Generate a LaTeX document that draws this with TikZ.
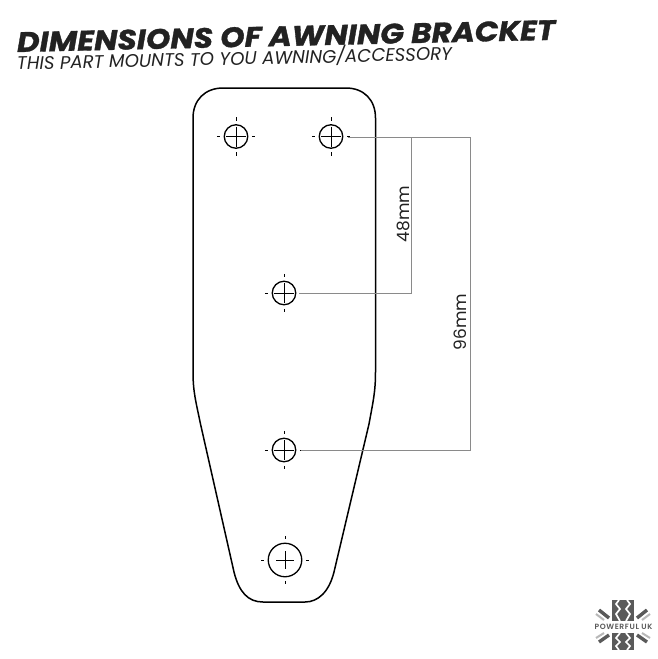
\documentclass[tikz,border=0pt]{standalone}
\usepackage{fontspec}
\setmainfont{Poppins}
\newfontfamily\titlefont[FakeStretch=1.11,FakeBold=1.2,BoldFont={Poppins Bold},ItalicFont={Poppins Bold Italic}]{Poppins Bold Italic}
\newfontfamily\logofont[LetterSpace=8]{Poppins SemiBold}
\definecolor{ink}{HTML}{222222}
\definecolor{dimgrey}{HTML}{8A8A8A}
\definecolor{logodark}{HTML}{5A5A5A}
\definecolor{logolight}{HTML}{B8B8B8}
\tikzset{
  outline/.style={draw=black,line width=1.5pt,line join=round},
  hole/.style={circle,draw=black,line width=1.3pt,inner sep=0pt,minimum size=#1},
  crossmark/.style={black,line width=0.7pt},
  dimline/.style={draw=dimgrey,line width=0.8pt},
  dimlabel/.style={rotate=90,text=ink,font=\fontsize{17}{17}\selectfont,inner sep=0pt},
  logobar/.style={line width=3.4pt,logodark},
  logobarlight/.style={line width=2pt,logolight},
  tread/.style={draw=white,line width=1.7pt,line join=miter}
}
% x, y, radius, half-width of the cross
\newcommand{\holemarks}[4]{%
  \draw[crossmark] (#1-#4,#2) -- (#1+#4,#2) (#1,#2-#4) -- (#1,#2+#4);
  \draw[crossmark] (#1-#3-7.5,#2) -- (#1-#3-4,#2) (#1+#3+4,#2) -- (#1+#3+7.5,#2)
    (#1,#2-#3-7.5) -- (#1,#2-#3-4) (#1,#2+#3+4) -- (#1,#2+#3+7.5);
}
\begin{document}
\begin{tikzpicture}[x=1pt,y=-1pt]
\useasboundingbox (0,0) rectangle (658,659);
\fill[white] (0,0) rectangle (658,659);
% titles
\node[anchor=base west,rotate=1.3,inner sep=0pt,text=ink,font=\fontsize{28}{28}\selectfont\titlefont] (title) at (17,52) {DIMENSIONS OF AWNING BRACKET};
\node[anchor=base west,rotate=1.3,inner sep=0pt,text=ink,font=\fontsize{18.2}{18}\selectfont\itshape] (subtitle) at (17,70) {THIS PART MOUNTS TO YOU AWNING/ACCESSORY};
% bracket
\draw[outline] (223,88) -- (346,88)
  .. controls (364,88) and (375.5,100) .. (375.5,118)
  -- (375.5,372)
  .. controls (375.5,392) and (373,402) .. (369,424)
  -- (334,572)
  .. controls (329,592) and (318,602) .. (305,602)
  -- (263,602)
  .. controls (248,602) and (239,592) .. (234,572)
  -- (200.5,424)
  .. controls (196,402) and (193,392) .. (193,372)
  -- (193,118)
  .. controls (193,100) and (205,88) .. (223,88) -- cycle;
% holes
\node[hole=23.5pt] (h1) at (236,136.5) {};
\node[hole=23.5pt] (h2) at (331,136.5) {};
\node[hole=23.5pt] (h3) at (284,293) {};
\node[hole=23.5pt] (h4) at (284,450) {};
\node[hole=33.5pt] (h5) at (285,560) {};
\holemarks{236}{136.5}{11.75}{10}
\holemarks{331}{136.5}{11.75}{10}
\holemarks{284}{293}{11.75}{10}
\holemarks{284}{450}{11.75}{10}
\holemarks{285}{560}{16.75}{9}
% dimensions
\coordinate (a) at (348,137);
\coordinate (b) at (299,293);
\coordinate (c) at (301,450);
\coordinate (d48t) at (411,137);
\coordinate (d48b) at (411,293);
\coordinate (d96t) at (470,137);
\coordinate (d96b) at (470,450);
\draw[dimline] (a) -- (d96t) -- (d96b) -- (c);
\draw[dimline] (d48t) -- (d48b) -- (b);
\node[dimlabel] (l48) at (403,214) {48mm};
\node[dimlabel] (l96) at (460,322) {96mm};
% logo
\fill[logodark] (612,600) rectangle (634,621);
\fill[logodark] (612,633) rectangle (634,650);
\draw[tread] (619,600) -- (616,604) -- (620,609) -- (616,614) -- (620,621);
\draw[tread] (627,600) -- (630,604) -- (626,609) -- (630,614) -- (626,621);
\draw[tread] (620,633) -- (616,638) -- (620,642) -- (616,646) -- (619,650);
\draw[tread] (626,633) -- (630,638) -- (626,642) -- (630,646) -- (627,650);
\draw[logobar] (599,610) -- (609,618);
\draw[logobar] (647,610) -- (637,618);
\draw[logobar] (599,642) -- (609,635);
\draw[logobar] (647,642) -- (637,635);
\draw[logobarlight] (596,614) -- (604,620);
\draw[logobarlight] (650,614) -- (642,620);
\draw[logobarlight] (596,638) -- (604,633);
\draw[logobarlight] (650,638) -- (642,633);
\node[inner sep=0pt,text=logodark,font=\fontsize{7.6}{8}\selectfont\logofont] (logo) at (623.5,627) {POWERFUL UK};
\end{tikzpicture}
\end{document}
